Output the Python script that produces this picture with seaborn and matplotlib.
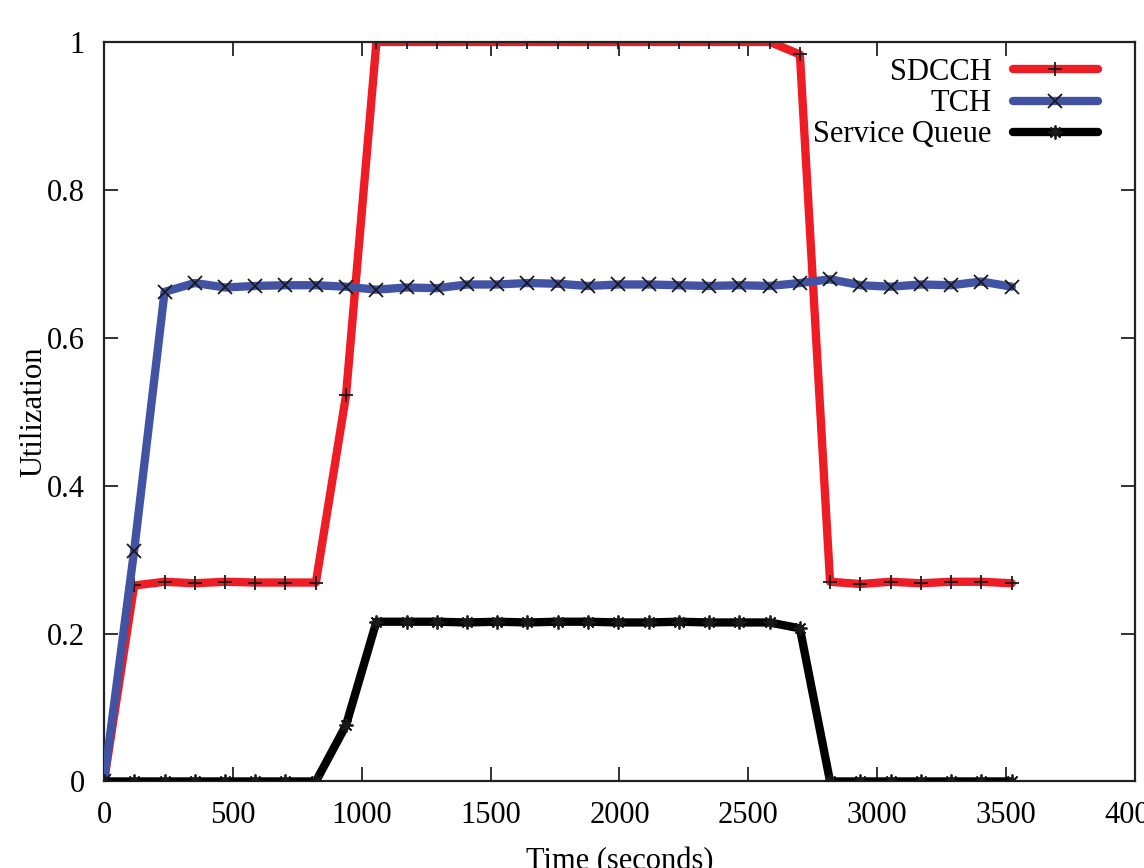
import matplotlib
matplotlib.use("Agg")
import matplotlib.pyplot as plt
import pandas as pd
import seaborn as sns

# --- Data ---
time_s = [0, 117, 235, 352, 470, 587, 704, 822, 939, 1057,
          1174, 1291, 1409, 1526, 1643, 1761, 1878, 1996, 2113, 2230,
          2348, 2465, 2583, 2700, 2817, 2935, 3052, 3169, 3287, 3404, 3522]

sdcch = [0.0, 0.265, 0.270, 0.268, 0.270, 0.269, 0.269, 0.269, 0.522, 1.0,
         1.0, 1.0, 1.0, 1.0, 1.0, 1.0, 1.0, 1.0, 1.0, 1.0,
         1.0, 1.0, 1.0, 0.983, 0.270, 0.267, 0.270, 0.268, 0.270, 0.270, 0.268]

tch = [0.0, 0.312, 0.662, 0.674, 0.668, 0.670, 0.671, 0.671, 0.669, 0.665,
       0.668, 0.667, 0.672, 0.672, 0.674, 0.673, 0.670, 0.672, 0.672, 0.671,
       0.670, 0.671, 0.670, 0.674, 0.679, 0.671, 0.669, 0.672, 0.671, 0.676, 0.669]

service_queue = [0.0, 0.0, 0.0, 0.0, 0.0, 0.0, 0.0, 0.0, 0.076, 0.216,
                 0.216, 0.216, 0.215, 0.216, 0.215, 0.216, 0.216, 0.215, 0.215, 0.216,
                 0.215, 0.215, 0.215, 0.207, 0.0, 0.0, 0.0, 0.0, 0.0, 0.0, 0.0]

x_ticks = [0, 500, 1000, 1500, 2000, 2500, 3000, 3500, 4000]
y_ticks = [0, 0.2, 0.4, 0.6, 0.8, 1.0]
y_tick_labels = ["0", "0.2", "0.4", "0.6", "0.8", "1"]

# --- Style ---
FS = 22
sns.set_theme(style="ticks")
plt.rcParams['font.family'] = ['Liberation Serif', 'DejaVu Serif']
plt.rcParams['font.size'] = FS
plt.rcParams['text.color'] = 'black'
plt.rcParams['axes.labelcolor'] = 'black'
plt.rcParams['xtick.color'] = '#222222'
plt.rcParams['ytick.color'] = '#222222'

df = pd.DataFrame({'time': time_s, 'sdcch': sdcch, 'tch': tch, 'queue': service_queue})

fig = plt.figure(figsize=(11.44, 8.68), dpi=100)
ax = fig.add_axes([0.0909, 0.0997, 0.9012, 0.852])

mk = dict(markersize=10, markeredgewidth=1.3, markeredgecolor='#1a1a1a', linewidth=6)
sns.lineplot(x='time', y='sdcch', data=df, ax=ax, color='#EE1C24', marker='+',
             label='SDCCH', zorder=2, **mk)
sns.lineplot(x='time', y='tch', data=df, ax=ax, color='#4353A4', marker='x',
             label='TCH', zorder=3, **mk)
sns.lineplot(x='time', y='queue', data=df, ax=ax, color='black', marker=(8, 2, 0),
             label='Service Queue', zorder=4, **mk)

ax.set_xlim(0, 4000)
ax.set_ylim(0, 1)
ax.set_xticks(x_ticks)
ax.set_yticks(y_ticks)
ax.set_yticklabels(y_tick_labels)
ax.tick_params(direction='in', top=True, right=True, length=10, width=1.3,
               labelsize=FS, labelcolor='black')
ax.tick_params(axis='x', pad=14)
ax.tick_params(axis='y', pad=14)
for sp in ax.spines.values():
    sp.set_linewidth(1.6)
    sp.set_color('#222222')
    sp.set_visible(True)

ax.set_xlabel("Time (seconds)", fontsize=FS)
ax.set_ylabel("Utilization", fontsize=FS)
ax.xaxis.set_label_coords(0.5, -0.088)
ax.yaxis.set_label_coords(-0.054, 0.5)

# legend: SDCCH, TCH, Service Queue; text right-aligned left of the sample
leg = ax.legend(loc='upper right', bbox_to_anchor=(0.964, 0.978), frameon=False,
                markerfirst=False, handlelength=2.78, labelspacing=0.07,
                handletextpad=0.69, borderaxespad=0.0, borderpad=0.0,
                fontsize=FS, numpoints=1)

fig.savefig("out.png", dpi=100)
